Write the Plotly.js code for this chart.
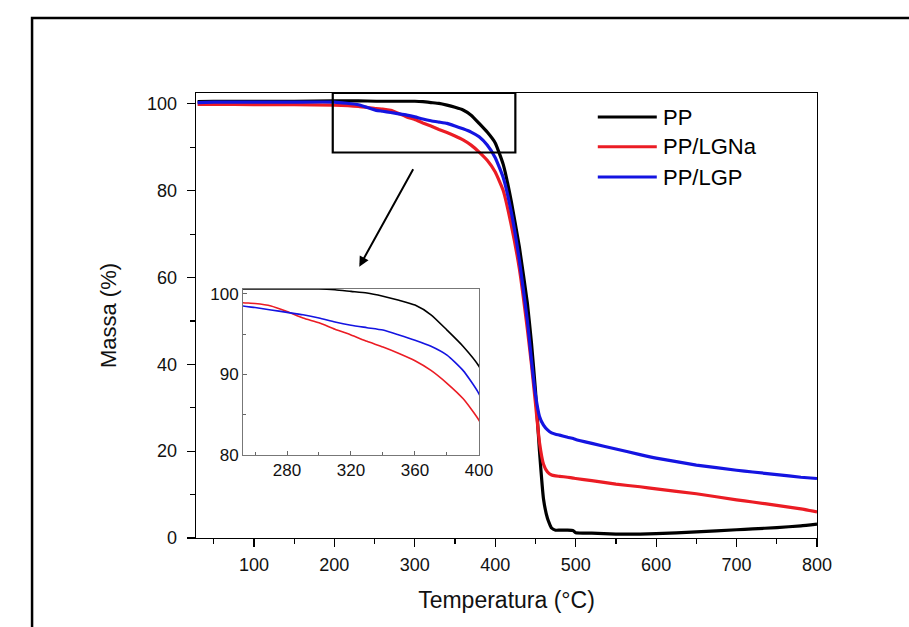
<!DOCTYPE html>
<html>
<head>
<meta charset="utf-8">
<script src="https://cdn.plot.ly/plotly-3.0.1.min.js"></script>
<style>html,body{margin:0;padding:0;background:#fff;}#chart{width:909px;height:627px;}</style>
</head>
<body>
<div id="chart"></div>
<script>
// ---- data ----
const temperature = [30, 50, 100, 150, 200, 230, 252, 260, 270, 280, 290, 300, 310, 320, 330, 340, 350, 360, 370, 380, 390, 400, 410, 420, 430, 440, 445, 450, 455, 460, 465, 470, 475, 480, 490, 497, 500, 520, 550, 580, 600, 650, 700, 720, 750, 780, 800];
const massPP = [100.5, 100.6, 100.6, 100.6, 100.7, 100.7, 100.6, 100.6, 100.6, 100.6, 100.6, 100.6, 100.5, 100.3, 100.1, 99.7, 99.2, 98.6, 97.4, 95.5, 93.5, 91.0, 86.0, 77.5, 67.0, 54.0, 45.0, 34.0, 20.0, 9.0, 4.5, 2.3, 1.8, 1.8, 1.8, 1.7, 1.2, 1.1, 0.9, 0.9, 1.0, 1.4, 1.9, 2.1, 2.4, 2.8, 3.2];
const massLGNa = [99.9, 99.9, 99.8, 99.8, 99.7, 99.4, 98.9, 98.8, 98.5, 97.8, 97.0, 96.4, 95.6, 94.9, 94.1, 93.4, 92.6, 91.7, 90.5, 88.9, 87.0, 84.3, 80.0, 72.0, 62.0, 48.0, 40.0, 31.0, 22.0, 17.0, 15.2, 14.5, 14.3, 14.2, 14.0, 13.8, 13.7, 13.2, 12.4, 11.8, 11.3, 10.2, 8.8, 8.3, 7.5, 6.7, 6.0];
const massLGP = [100.3, 100.4, 100.4, 100.4, 100.4, 99.8, 98.5, 98.3, 98.0, 97.7, 97.4, 97.0, 96.5, 96.1, 95.8, 95.5, 94.9, 94.25, 93.5, 92.4, 90.5, 87.6, 83.0, 75.0, 64.0, 50.0, 41.0, 33.0, 28.0, 26.0, 24.9, 24.2, 23.9, 23.7, 23.2, 22.9, 22.7, 21.8, 20.5, 19.2, 18.4, 16.8, 15.6, 15.2, 14.6, 14.0, 13.7];
const seriesNames = ["PP", "PP/LGNa", "PP/LGP"];
const seriesColors = ["#000000", "rgb(235,28,36)", "rgb(20,20,225)"];
const mainXTicks = [100, 200, 300, 400, 500, 600, 700, 800];
const mainYTicks = [0, 20, 40, 60, 80, 100];
const insetXTicks = [280, 320, 360, 400];
const insetYTicks = [80, 90, 100];
const zoomBox = {x0: 198, x1: 425, y0: 88.8, y1: 102.5};
const arrowTail = {x: 299, y: 85.3};
const arrowHead = {x: 231, y: 62.5};

const FONT = "Arial, 'Liberation Sans', sans-serif";
const seriesData = [massPP, massLGNa, massLGP];

const traces = [];
seriesData.forEach((ys, i) => {
  traces.push({x: temperature, y: ys, type: 'scatter', mode: 'lines', name: seriesNames[i],
    line: {color: seriesColors[i], width: 3.2, shape: 'spline', smoothing: 0.4}, showlegend: false, xaxis: 'x', yaxis: 'y'});
});
seriesData.forEach((ys, i) => {
  traces.push({x: temperature, y: ys, type: 'scatter', mode: 'lines', name: seriesNames[i],
    line: {color: seriesColors[i], width: 1.6, shape: 'spline', smoothing: 0.6}, showlegend: false, xaxis: 'x2', yaxis: 'y2'});
});

// legend drawn with shapes + annotations
const legendX0 = 0.647, legendX1 = 0.742, legendTextX = 0.748;
const legendYs = [0.946, 0.879, 0.811];

const shapes = [
  // outer frame of the figure
  {type: 'rect', xref: 'paper', yref: 'paper', x0: -0.264, x1: 1.3, y0: -0.4, y1: 1.1685,
   line: {color: '#000', width: 2.5}, layer: 'above'},
  // zoom box
  {type: 'rect', xref: 'x', yref: 'y', x0: zoomBox.x0, x1: zoomBox.x1, y0: zoomBox.y0, y1: zoomBox.y1,
   line: {color: '#000', width: 2.2}, layer: 'above'}
];
const annotations = [
  {xref: 'x', yref: 'y', axref: 'x', ayref: 'y', x: arrowHead.x, y: arrowHead.y,
   ax: arrowTail.x, ay: arrowTail.y, text: '', showarrow: true, arrowhead: 2,
   arrowsize: 1, arrowwidth: 2, arrowcolor: '#000'}
];
seriesNames.forEach((n, i) => {
  shapes.push({type: 'line', xref: 'paper', yref: 'paper', x0: legendX0, x1: legendX1,
    y0: legendYs[i], y1: legendYs[i], line: {color: seriesColors[i], width: 3}});
  annotations.push({xref: 'paper', yref: 'paper', x: legendTextX, y: legendYs[i],
    xanchor: 'left', yanchor: 'middle', text: n, showarrow: false,
    font: {family: FONT, size: 22, color: '#000'}});
});

const layout = {
  width: 909, height: 627,
  margin: {l: 196, r: 92, t: 93, b: 89},
  paper_bgcolor: '#fff', plot_bgcolor: '#fff',
  showlegend: false,
  font: {family: FONT, color: '#000'},
  xaxis: {
    domain: [0, 1], range: [28, 800], tickvals: mainXTicks, ticks: 'outside', ticklen: 8, tickwidth: 1.2,
    tickcolor: '#000', showline: true, linecolor: '#000', linewidth: 1.3, mirror: true,
    showgrid: false, zeroline: false, tickfont: {family: FONT, size: 18, color: '#111'},
    ticklabelstandoff: 2,
    minor: {dtick: 50, tick0: 0, ticks: 'outside', ticklen: 5, tickcolor: '#000', showgrid: false},
    title: {text: 'Temperatura (°C)', font: {family: FONT, size: 23, color: '#111'}, standoff: 18}
  },
  yaxis: {
    domain: [0, 1], range: [0, 102.5], tickvals: mainYTicks, ticks: 'outside', ticklen: 8, tickwidth: 1.2,
    tickcolor: '#000', showline: true, linecolor: '#000', linewidth: 1.3, mirror: true,
    showgrid: false, zeroline: false, tickfont: {family: FONT, size: 18, color: '#111'},
    ticklabelstandoff: 6,
    minor: {dtick: 10, tick0: 0, ticks: 'outside', ticklen: 5, tickcolor: '#000', showgrid: false},
    title: {text: 'Massa (%)', font: {family: FONT, size: 22, color: '#111'}, standoff: 24}
  },
  xaxis2: {
    domain: [0.0757, 0.4557], anchor: 'y2', range: [252.5, 400], tickvals: insetXTicks,
    ticks: 'inside', ticklen: 4, tickcolor: '#666', showline: true, linecolor: '#777', linewidth: 1,
    mirror: true, showgrid: false, zeroline: false, tickfont: {family: FONT, size: 17, color: '#111'},
    minor: {dtick: 20, tick0: 0, ticks: 'inside', ticklen: 3, tickcolor: '#666', showgrid: false}
  },
  yaxis2: {
    domain: [0.1865, 0.5596], anchor: 'x2', range: [80, 100.6], tickvals: insetYTicks,
    ticks: 'inside', ticklen: 4, tickcolor: '#666', showline: true, linecolor: '#777', linewidth: 1,
    mirror: true, showgrid: false, zeroline: false, tickfont: {family: FONT, size: 17, color: '#111'},
    minor: {dtick: 5, tick0: 0, ticks: 'inside', ticklen: 3, tickcolor: '#666', showgrid: false}
  },
  shapes: shapes,
  annotations: annotations
};

Plotly.newPlot('chart', traces, layout, {displayModeBar: false, staticPlot: true});
</script>
</body>
</html>
